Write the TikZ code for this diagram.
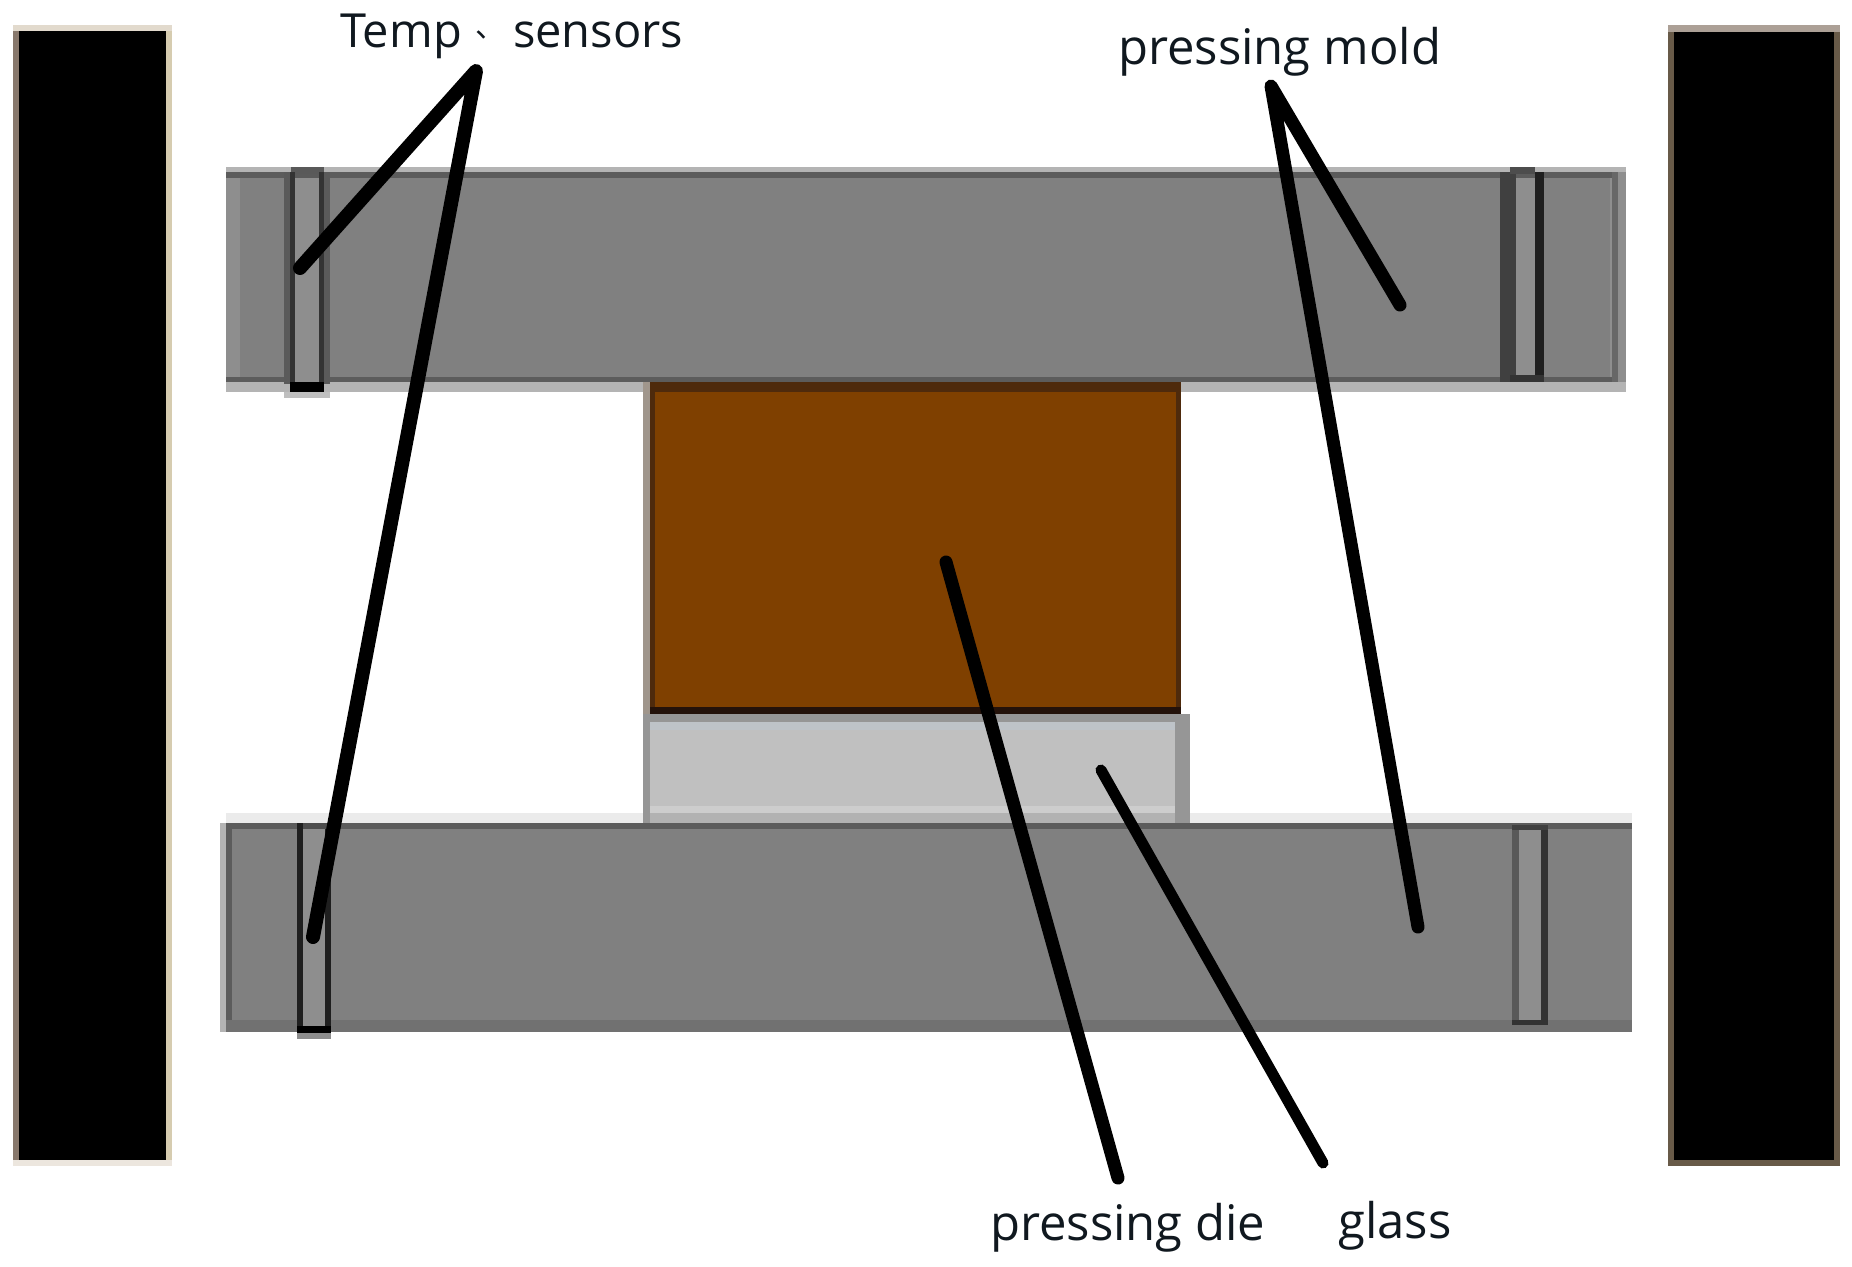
\documentclass[tikz,border=0pt]{standalone}
\usepackage{fontspec}
\setmainfont{Open Sans}
\newfontfamily\cjkfont{Noto Sans CJK SC}
\definecolor{moldgrey}{HTML}{808080}
\definecolor{moldedge}{HTML}{5C5C5C}
\definecolor{moldhalo}{HTML}{B4B4B4}
\definecolor{moldside}{HTML}{8E8E8E}
\definecolor{sensorfill}{HTML}{8E8E8E}
\definecolor{brownfill}{HTML}{7F4000}
\definecolor{brownedge}{HTML}{4E2A0C}
\definecolor{glassfill}{HTML}{C0C0C0}
\definecolor{labelink}{HTML}{10181F}
\tikzset{
  leader/.style={line width=#1,line cap=round,line join=round,draw=black},
  leader/.default=12pt,
  caption/.style={font=\fontsize{49}{56}\selectfont,text=labelink,inner sep=0pt,anchor=base west},
  captiontop/.style={font=\fontsize{47}{56}\selectfont,text=labelink,inner sep=0pt,anchor=base west}
}
\begin{document}
\begin{tikzpicture}[x=1pt,y=-1pt]
\useasboundingbox (0,0) rectangle (1852,1266);
\fill[white] (0,0) rectangle (1852,1266);
% side plates
\fill[fill={rgb,255:red,136;green,120;blue,108}] (13,28) rectangle (19,1160);
\fill[fill={rgb,255:red,214;green,204;blue,176}] (166,28) rectangle (172,1160);
\fill[fill={rgb,255:red,236;green,230;blue,222}] (13,1160) rectangle (172,1166);
\fill[fill={rgb,255:red,226;green,218;blue,205}] (13,25) rectangle (172,31);
\fill[black] (19,31) rectangle (166,1160);
\fill[fill={rgb,255:red,172;green,160;blue,150}] (1668,25) rectangle (1840,32);
\fill[fill={rgb,255:red,104;green,90;blue,72}] (1668,32) rectangle (1840,1166);
\fill[black] (1674,32) rectangle (1834,1160);
% top mold
\fill[moldhalo] (226,167) rectangle (1626,392);
\fill[moldside] (1610,172) rectangle (1626,382);
\fill[moldgrey] (226,178) rectangle (1610,377);
\fill[moldside] (226,178) rectangle (240,377);
\fill[moldedge] (226,172) rectangle (1618,178);
\fill[moldedge] (226,377) rectangle (1618,382);
\fill[moldedge!70!moldgrey] (1612,172) rectangle (1618,382);
% bottom mold
\fill[black!8] (226,813) rectangle (1632,823);
\fill[moldgrey] (220,823) rectangle (1632,1032);
\fill[moldhalo] (220,823) rectangle (226,1032);
\fill[moldedge] (226,823) rectangle (1632,829);
\fill[moldedge] (226,823) rectangle (232,1032);
\fill[moldedge!40!moldgrey] (226,1020) rectangle (1632,1032);
% press die and glass
\fill[fill={rgb,255:red,160;green,150;blue,140}] (643,382) rectangle (650,716);
\fill[brownfill] (650,382) rectangle (1181,708);
\fill[brownedge] (650,382) rectangle (1181,392);
\fill[brownedge] (650,382) rectangle (655,708);
\fill[brownedge] (1176,382) rectangle (1181,708);
\fill[fill={rgb,255:red,36;green,18;blue,10}] (650,707) rectangle (1181,714);
\fill[fill={rgb,255:red,150;green,150;blue,150}] (643,714) rectangle (1190,823);
\fill[glassfill] (650,724) rectangle (1175,813);
\fill[fill={rgb,255:red,190;green,195;blue,200}] (650,722) rectangle (1175,730);
\fill[black!30] (650,813) rectangle (1175,823);
\fill[fill={rgb,255:red,205;green,205;blue,205}] (650,806) rectangle (1175,813);
% sensors
\fill[moldgrey!70!black] (284,172) rectangle (330,384);
\fill[black!65] (291,167) rectangle (324,174);
\fill[black!80] (290,172) rectangle (295,392);
\fill[black!80] (319,172) rectangle (324,392);
\fill[sensorfill] (295,178) rectangle (319,382);
\fill[black] (290,382) rectangle (324,392);
\fill[black!25] (284,392) rectangle (330,398);
%
\fill[black!75] (1500,172) rectangle (1516,382);
\fill[moldgrey!60!black] (1510,167) rectangle (1535,174);
\fill[sensorfill] (1516,178) rectangle (1535,375);
\fill[black!88] (1535,172) rectangle (1544,382);
\fill[black!80] (1510,375) rectangle (1544,382);
%
\fill[moldgrey!60!black] (297,823) rectangle (331,1026);
\fill[sensorfill] (303,829) rectangle (325,1026);
\fill[black!88] (297,823) rectangle (303,1026);
\fill[black!88] (325,829) rectangle (331,1026);
\fill[black] (297,1026) rectangle (331,1033);
\fill[black!45] (297,1033) rectangle (331,1039);
%
\fill[black!65] (1512,825) rectangle (1519,1025);
\fill[sensorfill] (1519,830) rectangle (1541,1020);
\fill[black!80] (1541,825) rectangle (1548,1025);
\fill[black!75] (1512,825) rectangle (1548,830);
\fill[black!80] (1512,1020) rectangle (1548,1025);
% leader lines
\coordinate (tApex) at (476,71);
\coordinate (tUpper) at (300,268);
\coordinate (tLower) at (313,937);
\coordinate (mApex) at (1271,86);
\coordinate (mUpper) at (1400,305);
\coordinate (mLower) at (1418,927);
\coordinate (dieTop) at (946,562);
\coordinate (dieEnd) at (1118,1178);
\coordinate (glassTop) at (1101,770);
\coordinate (glassEnd) at (1323,1163);
\draw[leader=14pt] (tUpper) -- (tApex) -- (tLower);
\draw[leader=13pt] (mUpper) -- (mApex) -- (mLower);
\draw[leader=13pt] (dieTop) -- (dieEnd);
\draw[leader=11pt] (glassTop) -- (glassEnd);
% labels
\node[captiontop] (labelTemp) at (340,47) {Temp};
\node[inner sep=0pt,text=labelink,font=\fontsize{30}{40}\cjkfont] (labelMark) at (490,35) {、};
\node[captiontop] (labelSensors) at (513,47) {sensors};
\node[caption] (labelMold) at (1118,64) {pressing mold};
\node[caption] (labelDie) at (990,1240) {pressing die};
\node[caption] (labelGlass) at (1338,1238) {glass};
\end{tikzpicture}
\end{document}
